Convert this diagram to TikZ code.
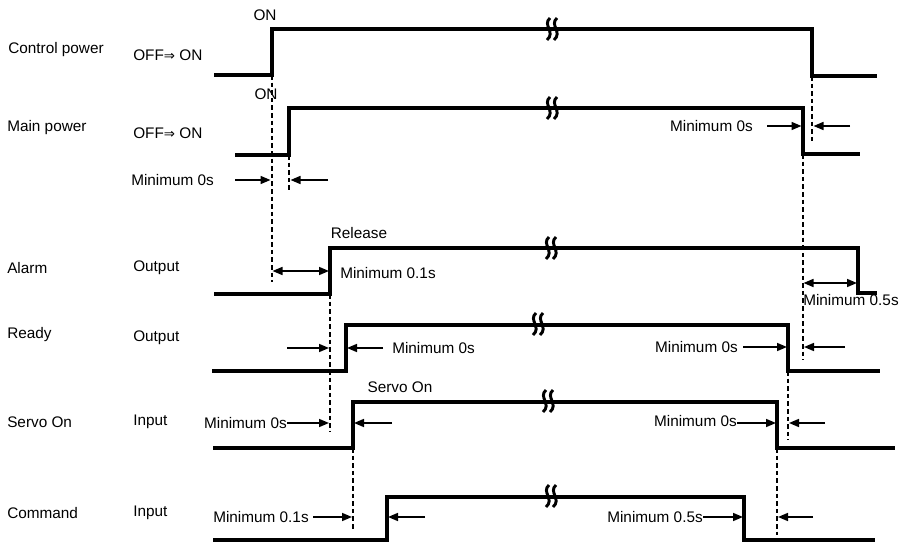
\documentclass[tikz,border=0pt]{standalone}
\usepackage{fontspec}
\setmainfont{Liberation Sans}
\newfontfamily\symfont{DejaVu Sans}
\usetikzlibrary{arrows.meta}
\begin{document}
\begin{tikzpicture}[x=0.75pt,y=-0.75pt,
  sig/.style={line width=2.8pt, line join=miter},
  guide/.style={line width=1.1pt, dash pattern=on 3.5pt off 2.2pt},
  dimarrow/.style={line width=1.2pt, -{Triangle[length=7.5pt,width=6pt]}},
  dimboth/.style={line width=1.2pt, {Triangle[length=7.5pt,width=6pt]}-{Triangle[length=7.5pt,width=6pt]}},
  txt/.style={inner sep=0pt, font=\fontsize{11.5}{13}\selectfont},
  brk/.pic={
    \draw[line width=2.2pt] (-1,-11) .. controls (-9,-4) and (5,3) .. (-4,11);
    \draw[line width=2.2pt] (6,-11) .. controls (-2,-4) and (12,3) .. (3,11);
  }
]
\path[use as bounding box, fill=white] (0,0) rectangle (903,543);

% ---------- left labels ----------
\node[txt, anchor=west] (lcp) at (8,50) {Control power};
\node[txt, anchor=west] (lcps) at (133,55) {OFF{\symfont\fontsize{10}{11}\selectfont ⇒} ON};
\node[txt, anchor=west] (lmp) at (7,128) {Main power};
\node[txt, anchor=west] (lmps) at (133,133) {OFF{\symfont\fontsize{10}{11}\selectfont ⇒} ON};
\node[txt, anchor=west] (lal) at (7,268) {Alarm};
\node[txt, anchor=west] (lals) at (133,268) {Output};
\node[txt, anchor=west] (lrd) at (7,335) {Ready};
\node[txt, anchor=west] (lrds) at (133,338) {Output};
\node[txt, anchor=west] (lsv) at (7,422) {Servo On};
\node[txt, anchor=west] (lsvs) at (133,422) {Input};
\node[txt, anchor=west] (lcm) at (7,513) {Command};
\node[txt, anchor=west] (lcms) at (133,513) {Input};

% ---------- waveforms ----------
\draw[sig] (214,75) -- (272,75) coordinate (cpr) -- (272,29) -- (812,29) -- (812,76) coordinate (cpf) -- (877,76);
\draw[sig] (235,155) -- (289,155) coordinate (mpr) -- (289,108) -- (803,108) -- (803,154) coordinate (mpf) -- (860,154);
\draw[sig] (214,294) -- (330,294) coordinate (alr) -- (330,248) -- (858,248) -- (858,293) coordinate (alf) -- (877,293);
\draw[sig] (212,371) -- (346,371) coordinate (rdr) -- (346,325) -- (788,325) -- (788,371) coordinate (rdf) -- (880,371);
\draw[sig] (213,448) -- (353,448) coordinate (svr) -- (353,402) -- (777,402) -- (777,448) coordinate (svf) -- (895,448);
\draw[sig] (213,540) -- (387,540) coordinate (cmr) -- (387,497) -- (744,497) -- (744,540) coordinate (cmf) -- (875,540);

% break marks
\pic at (551,29) {brk};
\pic at (551,108) {brk};
\pic at (550,248) {brk};
\pic at (537,324) {brk};
\pic at (547,401) {brk};
\pic at (550,496) {brk};

% ---------- edge labels ----------
\node[txt] (on1) at (265,15) {ON};
\node[txt] (on2) at (266,94) {ON};
\node[txt] (rel) at (359,233) {Release};
\node[txt] (svon) at (400,387) {Servo On};

% ---------- guide lines ----------
\draw[guide] (cpr) -- (272,282);
\draw[guide] (mpr) -- (289,190);
\draw[guide] (cpf) -- (812,143);
\draw[guide] (mpf) -- (803,360);
\draw[guide] (alr) -- (330,432);
\draw[guide] (rdf) -- (788,440);
\draw[guide] (svr) -- (353,530);
\draw[guide] (svf) -- (777,535);

% ---------- timing dimensions ----------
% main power on
\node[txt, anchor=west] (m1) at (131,180) {Minimum 0s};
\draw[dimarrow] (235,180) -- (270.5,180);
\draw[dimarrow] (328,180) -- (290.5,180);
% control power off vs main power off
\node[txt, anchor=east] (m2) at (753,126) {Minimum 0s};
\draw[dimarrow] (767,126) -- (801.5,126);
\draw[dimarrow] (850,126) -- (813.5,126);
% alarm release
\draw[dimboth] (272.5,271) -- (329,271);
\node[txt, anchor=west] (m3) at (340,273) {Minimum 0.1s};
% alarm off
\draw[dimboth] (803.5,283) -- (857,283);
\node[txt, anchor=west] (m4) at (803,300) {Minimum 0.5s};
% ready on
\draw[dimarrow] (287,348) -- (329,348);
\draw[dimarrow] (383,348) -- (347,348);
\node[txt, anchor=west] (m5) at (392,348) {Minimum 0s};
% ready off
\node[txt, anchor=east] (m6) at (738,347) {Minimum 0s};
\draw[dimarrow] (743,347) -- (787,347);
\draw[dimarrow] (845,347) -- (804,347);
% servo on
\node[txt, anchor=east] (m7) at (287,423) {Minimum 0s};
\draw[dimarrow] (m7.east) -- (329,423);
\draw[dimarrow] (392,423) -- (354,423);
% servo off
\node[txt, anchor=east] (m8) at (737,421) {Minimum 0s};
\draw[dimarrow] (737,423) -- (776,423);
\draw[dimarrow] (825,423) -- (789,423);
% command on
\node[txt, anchor=west] (m9) at (213,517) {Minimum 0.1s};
\draw[dimarrow] (313,517) -- (352,517);
\draw[dimarrow] (425,517) -- (388,517);
% command off
\node[txt, anchor=east] (m10) at (703,517) {Minimum 0.5s};
\draw[dimarrow] (703,517) -- (743,517);
\draw[dimarrow] (813,517) -- (778,517);
\end{tikzpicture}
\end{document}
